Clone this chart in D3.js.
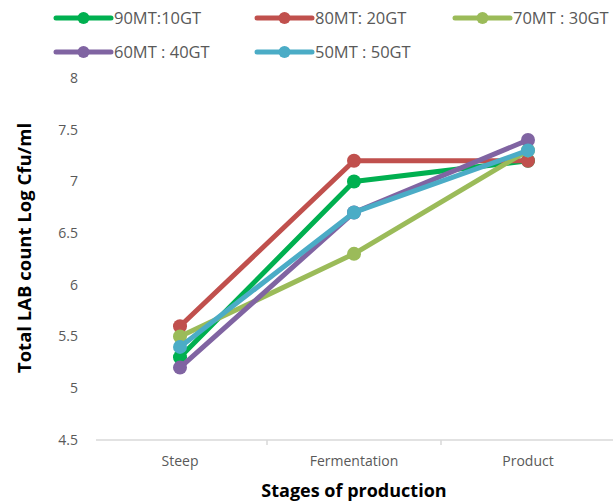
<!DOCTYPE html>
<html>
<head>
<meta charset="utf-8">
<script src="https://cdn.jsdelivr.net/npm/d3@7"></script>
<style>
  html, body { margin: 0; padding: 0; background: #fff; }
  svg { display: block; font-family: "Open Sans", "Noto Sans", sans-serif; }
</style>
</head>
<body>
<svg id="chart" width="613" height="504"></svg>
<script>
// Stages and LAB counts per blend ratio
const stages = ["Steep", "Fermentation", "Product"];
const seriesNames = ["90MT:10GT", "80MT: 20GT", "70MT : 30GT", "60MT : 40GT", "50MT : 50GT"];
const seriesColors = ["#00B050", "#C0504D", "#9BBB59", "#8064A2", "#4BACC6"];
const mt90 = [5.3, 7.0, 7.2];
const mt80 = [5.6, 7.2, 7.2];
const mt70 = [5.5, 6.3, 7.3];
const mt60 = [5.2, 6.7, 7.4];
const mt50 = [5.4, 6.7, 7.3];
const yTicks = [4.5, 5, 5.5, 6, 6.5, 7, 7.5, 8];

const seriesValues = [mt90, mt80, mt70, mt60, mt50];
const series = seriesNames.map((name, i) => ({
  name, color: seriesColors[i],
  points: stages.map((s, j) => ({ stage: s, value: seriesValues[i][j] }))
}));

const svg = d3.select("#chart");
const plot = { left: 93, right: 615, top: 78, bottom: 440 };

const x = d3.scaleBand().domain(stages).range([plot.left, plot.right]);
const y = d3.scaleLinear().domain([4.5, 8]).range([plot.bottom, plot.top]);

// Y tick labels
svg.append("g")
  .selectAll("text")
  .data(yTicks)
  .join("text")
  .attr("x", 78)
  .attr("y", d => y(d))
  .attr("dy", "0.35em")
  .attr("text-anchor", "end")
  .attr("font-size", 14)
  .attr("fill", "#595959")
  .text(d => d);

// X axis baseline with ticks at category boundaries
const xAxis = svg.append("g");
xAxis.append("line")
  .attr("x1", plot.left + 3).attr("x2", plot.right)
  .attr("y1", plot.bottom).attr("y2", plot.bottom)
  .attr("stroke", "#D9D9D9").attr("stroke-width", 1.5);
const boundaries = stages.map(s => x(s)).concat([x.range()[1]]);
xAxis.selectAll("line.tick")
  .data(boundaries.slice(1))
  .join("line")
  .attr("class", "tick")
  .attr("x1", d => d).attr("x2", d => d)
  .attr("y1", plot.bottom).attr("y2", plot.bottom + 5)
  .attr("stroke", "#D9D9D9").attr("stroke-width", 1.5);
xAxis.selectAll("text")
  .data(stages)
  .join("text")
  .attr("x", d => x(d) + x.bandwidth() / 2)
  .attr("y", 466)
  .attr("text-anchor", "middle")
  .attr("font-size", 14)
  .attr("fill", "#595959")
  .text(d => d);

// Axis titles
svg.append("text")
  .attr("x", 354).attr("y", 497)
  .attr("text-anchor", "middle")
  .attr("font-size", 18).attr("font-weight", "bold")
  .attr("fill", "#000")
  .text("Stages of production");
svg.append("text")
  .attr("transform", "translate(31,248) rotate(-90)")
  .attr("text-anchor", "middle")
  .attr("font-size", 18.5).attr("font-weight", "bold")
  .attr("fill", "#000")
  .text("Total LAB count Log Cfu/ml");

// Lines and markers
const line = d3.line()
  .x(d => x(d.stage) + x.bandwidth() / 2)
  .y(d => y(d.value));

const g = svg.append("g");
series.forEach(s => {
  const sg = g.append("g");
  sg.append("path")
    .datum(s.points)
    .attr("d", line)
    .attr("fill", "none")
    .attr("stroke", s.color)
    .attr("stroke-width", 5)
    .attr("stroke-linejoin", "round")
    .attr("stroke-linecap", "round");
  sg.selectAll("circle")
    .data(s.points)
    .join("circle")
    .attr("cx", d => x(d.stage) + x.bandwidth() / 2)
    .attr("cy", d => y(d.value))
    .attr("r", 7)
    .attr("fill", s.color);
});

// Legend
const legendPos = [
  { x: 56, y: 18 }, { x: 257, y: 18 }, { x: 455, y: 18 },
  { x: 56, y: 52 }, { x: 257, y: 52 }
];
const legend = svg.append("g");
series.forEach((s, i) => {
  const p = legendPos[i];
  const lg = legend.append("g").attr("transform", `translate(${p.x},${p.y})`);
  lg.append("line")
    .attr("x1", 0).attr("x2", 55).attr("y1", 0).attr("y2", 0)
    .attr("stroke", s.color).attr("stroke-width", 5)
    .attr("stroke-linecap", "round");
  lg.append("circle").attr("cx", 27.5).attr("cy", 0).attr("r", 6).attr("fill", s.color);
  lg.append("text")
    .attr("x", 58).attr("y", 0).attr("dy", "0.35em")
    .attr("font-size", 16.5).attr("fill", "#595959")
    .text(s.name);
});
</script>
</body>
</html>
